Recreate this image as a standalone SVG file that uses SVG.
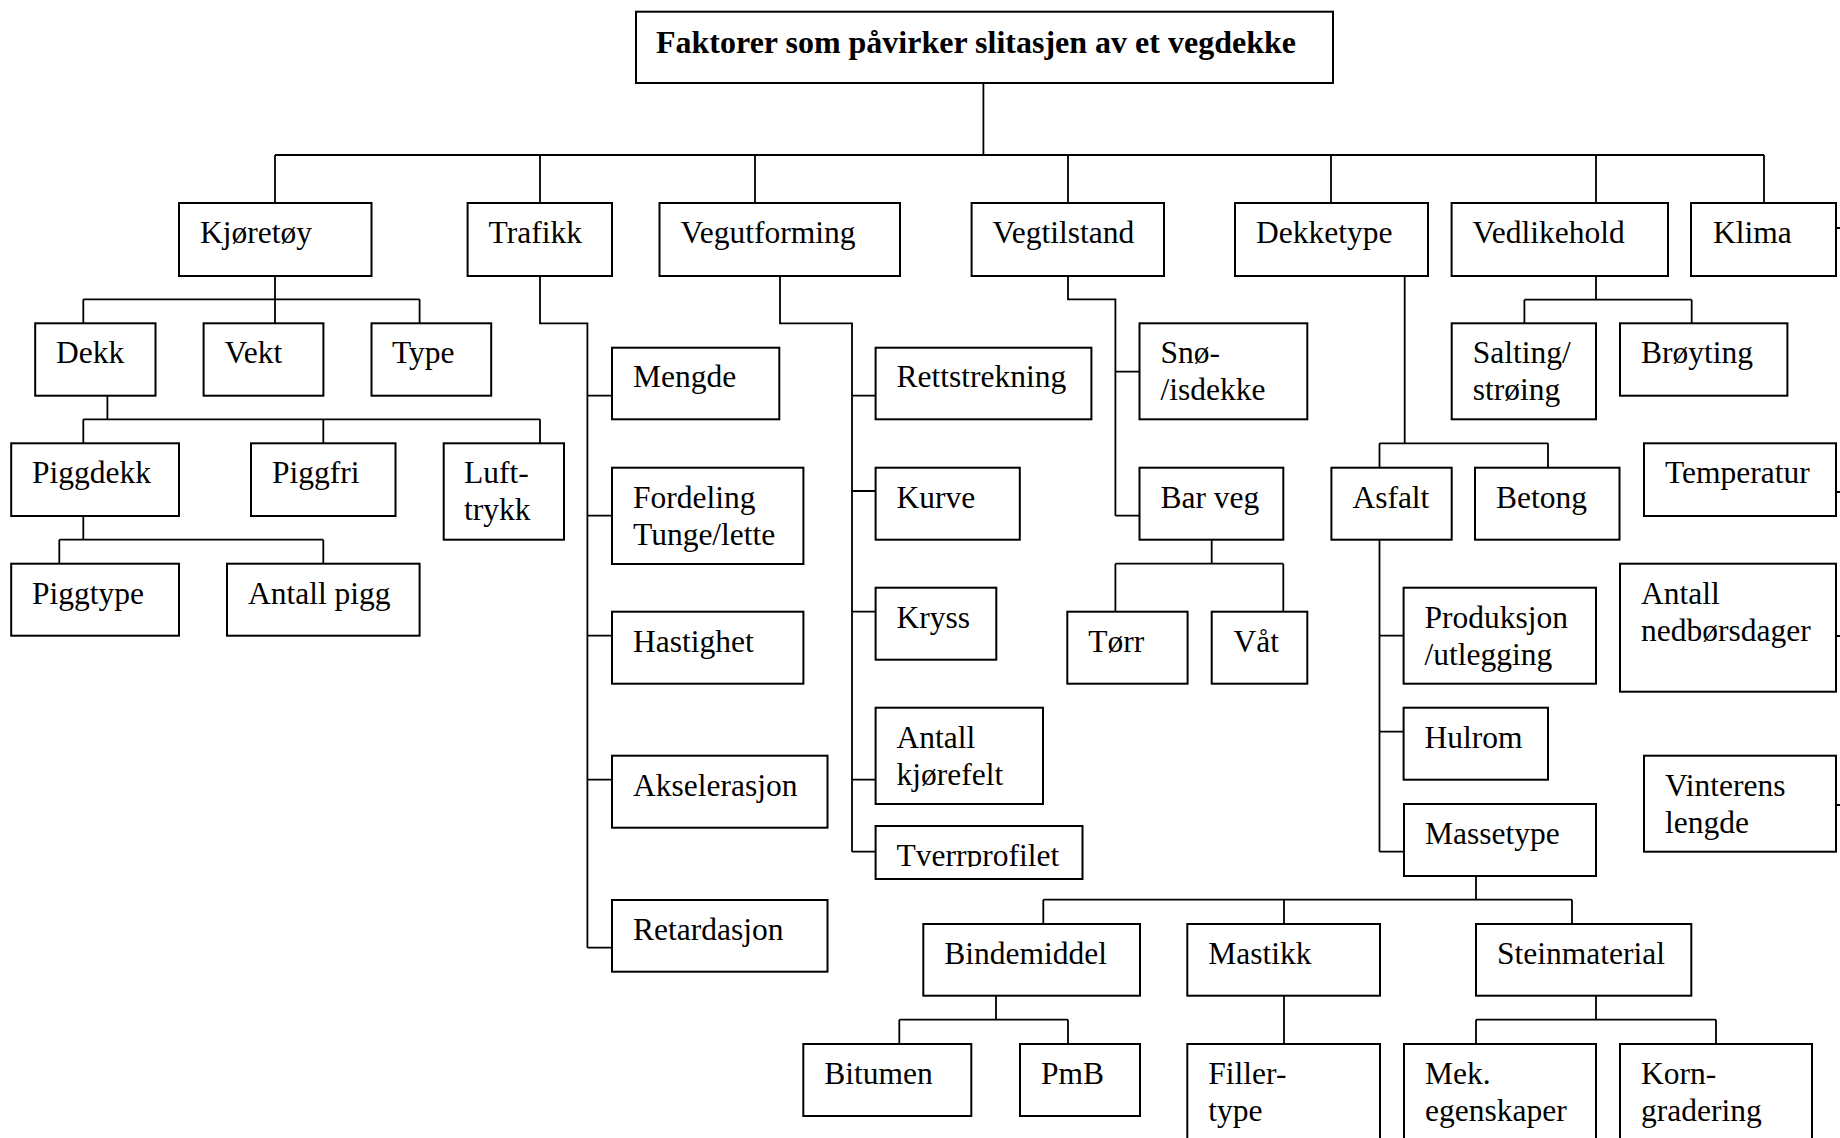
<svg xmlns="http://www.w3.org/2000/svg" width="1840" height="1138" viewBox="0 0 1840 1138">
<style>
.b{fill:#fff;stroke:#000;stroke-width:2}
.t{font-family:"Liberation Serif","Times New Roman",serif;font-size:31.5px;fill:#000}
.h{font-family:"Liberation Serif","Times New Roman",serif;font-size:32px;font-weight:bold;fill:#000}
.c{fill:none;stroke:#000;stroke-width:1.8}
</style>
<defs>
<clipPath id="clipTv"><rect x="870" y="826" width="220" height="41"/></clipPath>
</defs>
<rect width="1840" height="1138" fill="#fff"/>
<g id="connectors" class="c">
<path d="M983.4 83V155M275 155H1764M275 155V203M540 155V203M755 155V203M1068 155V203M1331 155V203M1596 155V203M1764 155V203"/>
<path d="M275 276V299.3M83.3 299.3H419.6M83.3 299.3V323.3M275 299.3V323.3M419.6 299.3V323.3"/>
<path d="M107.4 395.7V419.3M83.3 419.3H540M83.3 419.3V443.3M323.3 419.3V443.3M540 419.3V443.3"/>
<path d="M83.3 516V539.7M59.3 539.7H323.3M59.3 539.7V563.7M323.3 539.7V563.7"/>
<path d="M540 276V323.3H587.4V947.7M587.4 395.7H612M587.4 515.7H612M587.4 635.7H612M587.4 779.7H612M587.4 947.7H612"/>
<path d="M780 276V323.3H852V851.7M852 395.7H875.6M852 491H875.6M852 611.7H875.6M852 779.7H875.6M852 851.7H875.6"/>
<path d="M1068 276V299.3H1115.4V515.7M1115.4 371.7H1139.5M1115.4 515.7H1139.5"/>
<path d="M1211.7 539.7V563.7M1115.4 563.7H1283.3M1115.4 563.7V611.7M1283.3 563.7V611.7"/>
<path d="M1404.7 276V443.3M1379.5 443.3H1548M1379.5 443.3V467.7M1548 443.3V467.7"/>
<path d="M1379.5 539.7V851.7M1379.5 635.7H1403.6M1379.5 731.7H1403.6M1379.5 851.7H1404"/>
<path d="M1476 876V899.7M1043.3 899.7H1572M1043.3 899.7V924M1284 899.7V924M1572 899.7V924"/>
<path d="M996 995.7V1019.7M899.3 1019.7H1068M899.3 1019.7V1044M1068 1019.7V1044"/>
<path d="M1284 995.7V1044"/>
<path d="M1596 995.7V1019.7M1476 1019.7H1716M1476 1019.7V1044M1716 1019.7V1044"/>
<path d="M1596 276V299.7M1524.4 299.7H1691.7M1524.4 299.7V323.3M1691.7 299.7V323.3"/>
<path d="M1836 228H1840M1836 492H1840M1836 636H1840M1836 805H1840"/>
</g>
<g id="title"><rect class="b" x="636" y="11.7" width="697" height="71.3"/><text class="h" x="656" y="53">Faktorer som påvirker slitasjen av et vegdekke</text></g>
<g id="kjoretoy"><rect class="b" x="179" y="203" width="192.5" height="73"/><text class="t" x="200" y="243">Kjøretøy</text></g>
<g id="trafikk"><rect class="b" x="467.6" y="203" width="144.4" height="73"/><text class="t" x="488.6" y="243">Trafikk</text></g>
<g id="vegutforming"><rect class="b" x="659.5" y="203" width="240.5" height="73"/><text class="t" x="680.5" y="243">Vegutforming</text></g>
<g id="vegtilstand"><rect class="b" x="971.6" y="203" width="192.4" height="73"/><text class="t" x="992.6" y="243">Vegtilstand</text></g>
<g id="dekketype"><rect class="b" x="1235" y="203" width="193" height="73"/><text class="t" x="1256" y="243">Dekketype</text></g>
<g id="vedlikehold"><rect class="b" x="1451.6" y="203" width="216.4" height="73"/><text class="t" x="1472.6" y="243">Vedlikehold</text></g>
<g id="klima"><rect class="b" x="1691" y="203" width="145" height="73"/><text class="t" x="1713" y="243">Klima</text></g>
<g id="dekk"><rect class="b" x="35.2" y="323.3" width="120.3" height="72.4"/><text class="t" x="56" y="363.3">Dekk</text></g>
<g id="vekt"><rect class="b" x="203.6" y="323.3" width="119.8" height="72.4"/><text class="t" x="224.6" y="363.3">Vekt</text></g>
<g id="type"><rect class="b" x="371.5" y="323.3" width="119.7" height="72.4"/><text class="t" x="392" y="363.3">Type</text></g>
<g id="piggdekk"><rect class="b" x="11.2" y="443.3" width="167.8" height="72.7"/><text class="t" x="32" y="483.3">Piggdekk</text></g>
<g id="piggfri"><rect class="b" x="251" y="443.3" width="144.5" height="72.7"/><text class="t" x="272" y="483.3">Piggfri</text></g>
<g id="lufttrykk"><rect class="b" x="443.7" y="443.3" width="120.3" height="96.4"/><text class="t" x="464" y="483.3">Luft-<tspan x="464" dy="37">trykk</tspan></text></g>
<g id="piggtype"><rect class="b" x="11.2" y="563.7" width="167.8" height="72"/><text class="t" x="32" y="603.7">Piggtype</text></g>
<g id="antallpigg"><rect class="b" x="227" y="563.7" width="192.6" height="72"/><text class="t" x="248" y="603.7">Antall pigg</text></g>
<g id="mengde"><rect class="b" x="612" y="347.7" width="167.3" height="71.6"/><text class="t" x="633" y="387.2">Mengde</text></g>
<g id="fordeling"><rect class="b" x="612" y="467.7" width="191.4" height="96.3"/><text class="t" x="633" y="507.7">Fordeling<tspan x="633" dy="37">Tunge/lette</tspan></text></g>
<g id="hastighet"><rect class="b" x="612" y="611.7" width="191.4" height="72"/><text class="t" x="633" y="651.7">Hastighet</text></g>
<g id="akselerasjon"><rect class="b" x="612" y="755.7" width="215.5" height="72"/><text class="t" x="633" y="795.7">Akselerasjon</text></g>
<g id="retardasjon"><rect class="b" x="612" y="900" width="215.5" height="71.7"/><text class="t" x="633" y="940">Retardasjon</text></g>
<g id="rettstrekning"><rect class="b" x="875.6" y="347.7" width="215.8" height="71.6"/><text class="t" x="896.6" y="387.2">Rettstrekning</text></g>
<g id="kurve"><rect class="b" x="875.6" y="467.7" width="144.2" height="72"/><text class="t" x="896.6" y="507.7">Kurve</text></g>
<g id="kryss"><rect class="b" x="875.6" y="587.7" width="120.7" height="72"/><text class="t" x="896.6" y="627.7">Kryss</text></g>
<g id="antallkjorefelt"><rect class="b" x="875.6" y="707.7" width="167.4" height="96.3"/><text class="t" x="896.6" y="747.7">Antall<tspan x="896.6" dy="37">kjørefelt</tspan></text></g>
<g id="tverrprofilet"><rect class="b" x="875.6" y="826" width="206.9" height="53"/><text class="t" x="896.6" y="866" clip-path="url(#clipTv)">Tverrprofilet</text></g>
<g id="snoisdekke"><rect class="b" x="1139.5" y="323.3" width="167.8" height="96"/><text class="t" x="1160.5" y="363.3">Snø-<tspan x="1160.5" dy="37">/isdekke</tspan></text></g>
<g id="barveg"><rect class="b" x="1139.5" y="467.7" width="143.8" height="72"/><text class="t" x="1160.5" y="507.7">Bar veg</text></g>
<g id="torr"><rect class="b" x="1067.3" y="611.7" width="120.3" height="72"/><text class="t" x="1088.3" y="651.7">Tørr</text></g>
<g id="vat"><rect class="b" x="1211.7" y="611.7" width="95.6" height="72"/><text class="t" x="1233.5" y="651.7">Våt</text></g>
<g id="asfalt"><rect class="b" x="1331.4" y="467.7" width="120.3" height="72"/><text class="t" x="1352.4" y="507.7">Asfalt</text></g>
<g id="betong"><rect class="b" x="1475" y="467.7" width="144.5" height="72"/><text class="t" x="1496" y="507.7">Betong</text></g>
<g id="produksjon"><rect class="b" x="1403.6" y="587.7" width="192.4" height="96"/><text class="t" x="1424.6" y="627.7">Produksjon<tspan x="1424.6" dy="37">/utlegging</tspan></text></g>
<g id="hulrom"><rect class="b" x="1403.6" y="707.7" width="144.4" height="72"/><text class="t" x="1424.6" y="747.7">Hulrom</text></g>
<g id="massetype"><rect class="b" x="1404" y="804" width="192" height="72"/><text class="t" x="1425" y="844">Massetype</text></g>
<g id="bindemiddel"><rect class="b" x="923.3" y="924" width="216.7" height="71.7"/><text class="t" x="944.3" y="964">Bindemiddel</text></g>
<g id="mastikk"><rect class="b" x="1187.3" y="924" width="192.7" height="71.7"/><text class="t" x="1208.3" y="964">Mastikk</text></g>
<g id="steinmaterial"><rect class="b" x="1476" y="924" width="215.3" height="71.7"/><text class="t" x="1497" y="964">Steinmaterial</text></g>
<g id="bitumen"><rect class="b" x="803.3" y="1044" width="168" height="72"/><text class="t" x="824.3" y="1084">Bitumen</text></g>
<g id="pmb"><rect class="b" x="1020" y="1044" width="120" height="72"/><text class="t" x="1041" y="1084">PmB</text></g>
<g id="fillertype"><rect class="b" x="1187.3" y="1044" width="192.7" height="110"/><text class="t" x="1208.3" y="1084">Filler-<tspan x="1208.3" dy="37">type</tspan></text></g>
<g id="mekegenskaper"><rect class="b" x="1404" y="1044" width="192" height="110"/><text class="t" x="1425" y="1084">Mek.<tspan x="1425" dy="37">egenskaper</tspan></text></g>
<g id="korngradering"><rect class="b" x="1620" y="1044" width="192" height="110"/><text class="t" x="1641" y="1084">Korn-<tspan x="1641" dy="37">gradering</tspan></text></g>
<g id="salting"><rect class="b" x="1451.7" y="323.3" width="144.3" height="96"/><text class="t" x="1472.7" y="363.3">Salting/<tspan x="1472.7" dy="37">strøing</tspan></text></g>
<g id="broyting"><rect class="b" x="1620" y="323.3" width="167.4" height="72.4"/><text class="t" x="1641" y="363.3">Brøyting</text></g>
<g id="temperatur"><rect class="b" x="1644" y="443.3" width="192" height="72.7"/><text class="t" x="1665" y="483.3">Temperatur</text></g>
<g id="nedborsdager"><rect class="b" x="1620" y="563.7" width="216" height="128"/><text class="t" x="1641" y="603.7">Antall<tspan x="1641" dy="37">nedbørsdager</tspan></text></g>
<g id="vinterenslengde"><rect class="b" x="1644" y="755.7" width="192" height="96"/><text class="t" x="1665" y="795.7">Vinterens<tspan x="1665" dy="37">lengde</tspan></text></g>
</svg>
